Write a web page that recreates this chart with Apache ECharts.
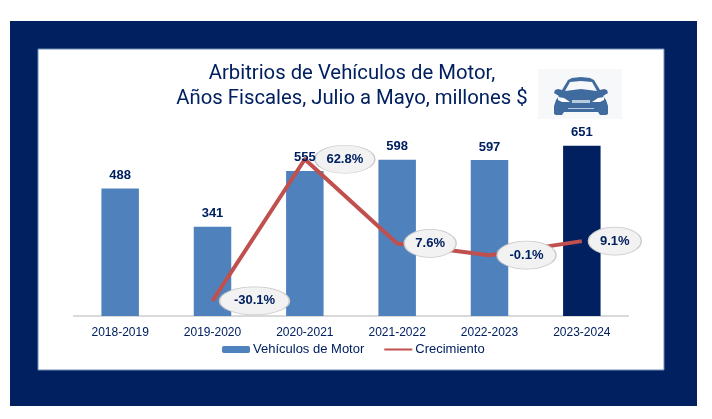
<!DOCTYPE html>
<html>
<head>
<meta charset="utf-8">
<style>html,body{margin:0;padding:0;background:#fff}#c{width:712px;height:419px}</style>
<script src="https://cdn.jsdelivr.net/npm/echarts@6/dist/echarts.min.js"></script>
</head>
<body>
<div id="c"></div>
<script>
var categories = ['2018-2019','2019-2020','2020-2021','2021-2022','2022-2023','2023-2024'];
var arbitrios = [488,341,555,598,597,651];
var crecimiento = [null,-30.1,62.8,7.6,-0.1,9.1];
var calloutSizes = [[0,0],[70,28],[60,28],[52,28],[59,28],[53,28]];
var calloutOffsets = [0,42,40,33,37,33];
var NAVY = '#002060', BLUE = '#4f81bd', RED = '#c0504d', CAR = '#3f6b9f', PALE = '#f6f8fa';
var ELLIPSE = 'path://M0 50A100 50 0 1 1 200 50A100 50 0 1 1 0 50Z';

var chart = echarts.init(document.getElementById('c'), null, {renderer:'canvas'});
chart.setOption({
  animation:false,
  backgroundColor:'#fff',
  grid:{left:74,right:84,top:133,bottom:103},
  legend:{
    data:[{name:'Vehículos de Motor',itemStyle:{color:BLUE}},{name:'Crecimiento',itemStyle:{opacity:0}}],
    left:217,top:338,itemWidth:28,itemHeight:7,itemGap:19,
    textStyle:{color:NAVY,fontFamily:'Liberation Sans',fontSize:13,padding:[0,0,0,-2]}
  },
  xAxis:{type:'category',data:categories,
    axisLine:{lineStyle:{color:'#d9d9d9',width:2}},axisTick:{show:false},
    axisLabel:{color:NAVY,fontFamily:'Liberation Sans',fontSize:12,margin:11}},
  yAxis:[
    {type:'value',min:0,max:700,show:false,splitLine:{show:false}},
    {type:'value',min:-40,max:80,show:false,splitLine:{show:false}}
  ],
  graphic:[
    {type:'rect',z:-10,silent:true,shape:{x:10,y:21,width:687,height:385},style:{fill:NAVY}},
    {type:'rect',z:-9,silent:true,shape:{x:38,y:49,width:626,height:321},style:{fill:'#fff',stroke:'#6f8db5',lineWidth:1}},
    {type:'text',z:5,silent:true,style:{x:352,y:74,text:'Arbitrios de Vehículos de Motor,',textAlign:'center',textVerticalAlign:'middle',fill:NAVY,font:'20.3px Roboto'}},
    {type:'text',z:5,silent:true,style:{x:352,y:99,text:'Años Fiscales, Julio a Mayo, millones $',textAlign:'center',textVerticalAlign:'middle',fill:NAVY,font:'20.3px Roboto'}},
    {type:'rect',z:5,silent:true,shape:{x:538,y:69,width:84,height:50},style:{fill:PALE}},
    {type:'group',x:554,y:76,silent:true,children:[
      {type:'polygon',z:6,shape:{points:[[14,4],[18,2],[27,1],[36,2],[40,4],[46,14],[50,13],[53,14],[54,17],[49,20],[52,24],[54,30],[54,38],[52,39],[46,39],[44,36],[10,36],[8,39],[2,39],[0,38],[0,30],[2,24],[5,20],[0,17],[1,14],[4,13],[8,14]]},style:{fill:CAR}},
      {type:'polygon',z:7,shape:{points:[[16,6],[27,5],[38,6],[43,15],[27,13],[11,15]]},style:{fill:PALE}},
      {type:'polygon',z:7,shape:{points:[[4,21],[10,22],[16,26],[8,26],[4,24]]},style:{fill:'#fff'}},
      {type:'polygon',z:7,shape:{points:[[50,21],[44,22],[38,26],[46,26],[50,24]]},style:{fill:'#fff'}},
      {type:'rect',z:7,shape:{x:18,y:24,width:18,height:3},style:{fill:'#b9cadf'}},
      {type:'rect',z:7,shape:{x:14,y:32,width:26,height:1},style:{fill:'#b9cadf'}}
    ]}
  ],
  series:[
    {name:'Vehículos de Motor',type:'bar',barWidth:37.5,barGap:'-100%',yAxisIndex:0,z:2,
      data:arbitrios.map(function(v,i){return i===arbitrios.length-1?{value:v,itemStyle:{color:NAVY}}:v;}),
      itemStyle:{color:BLUE}},
    {name:'Crecimiento',type:'line',yAxisIndex:1,z:3,data:crecimiento,showSymbol:false,symbol:'none',
      lineStyle:{color:RED,width:4,join:'round'},itemStyle:{color:RED}},
    {name:'Etiquetas',type:'scatter',yAxisIndex:1,z:4,
      data:crecimiento.map(function(v,i){return v===null?null:{value:v,symbolOffset:[calloutOffsets[i],0]};}),
      symbol:ELLIPSE,
      symbolKeepAspect:false,
      symbolSize:function(v,p){return calloutSizes[p.dataIndex];},
      itemStyle:{color:'#f2f2f2',borderColor:'#c9c9c9',borderWidth:1,opacity:1},
      label:{show:true,position:'inside',color:NAVY,fontFamily:'Liberation Sans',fontWeight:'bold',fontSize:13,
        formatter:function(p){return crecimiento[p.dataIndex].toFixed(1)+'%';}},
      emphasis:{disabled:true}},
    {name:'Valores',type:'bar',barWidth:37.5,barGap:'-100%',yAxisIndex:0,z:6,data:arbitrios,
      itemStyle:{color:'rgba(0,0,0,0)'},
      label:{show:true,position:'top',distance:6.5,color:NAVY,fontFamily:'Liberation Sans',fontWeight:'bold',fontSize:13},
      emphasis:{disabled:true}}
  ]
});
</script>
</body>
</html>
